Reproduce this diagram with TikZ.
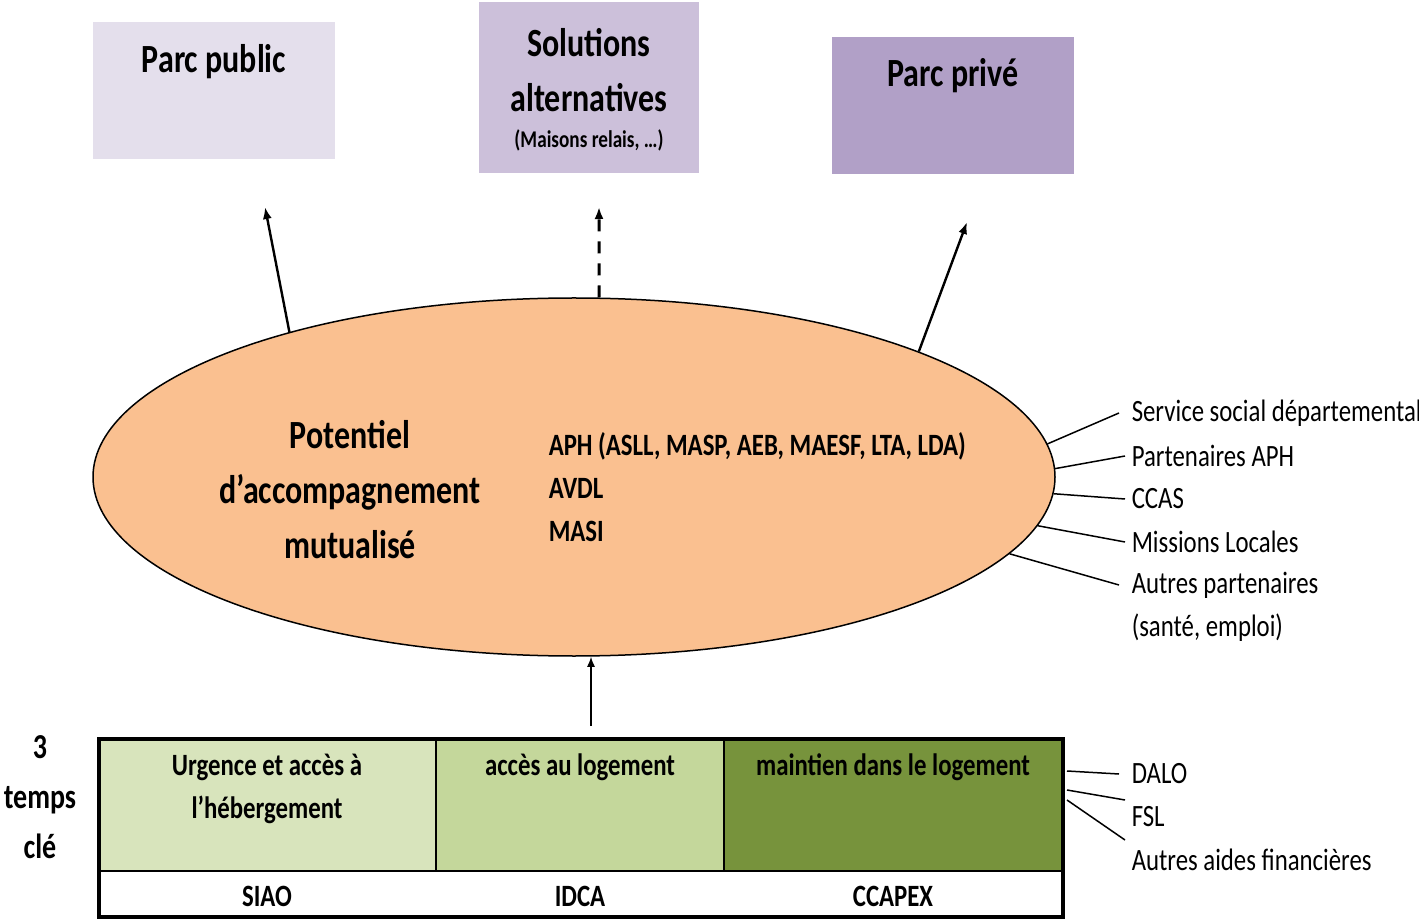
\documentclass[tikz,border=0pt]{standalone}
\usepackage{fontspec}
\setmainfont{Carlito}[FakeStretch=0.8]
\usetikzlibrary{arrows.meta,shapes.geometric,calc}

\definecolor{publicfill}{HTML}{E4DFEC}
\definecolor{altfill}{HTML}{CCC0DA}
\definecolor{privfill}{HTML}{B1A0C7}
\definecolor{potfill}{HTML}{FAC090}
\definecolor{urgfill}{HTML}{D8E4BC}
\definecolor{accfill}{HTML}{C4D79B}
\definecolor{mainfill}{HTML}{77933C}

\begin{document}
\begin{tikzpicture}[x=0.5pt, y=-0.5pt, line width=0.75pt,
  bigtxt/.style={font=\fontsize{20}{27.5}\selectfont\bfseries, align=center},
  midtxt/.style={font=\fontsize{15.5}{21.5}\selectfont\bfseries, align=center},
  parttxt/.style={font=\fontsize{15.5}{21.5}\selectfont, anchor=west, inner xsep=6pt, inner ysep=0pt},
  arr/.style={-{Latex[length=6pt,width=4.5pt]}, line width=1.2pt}]
  \useasboundingbox (0,0) rectangle (1419,919);
  % Housing boxes on top
  \fill[publicfill] (93,22) rectangle (335,159);
  \fill[altfill] (479,2) rectangle (699,173);
  \fill[privfill] (832,37) rectangle (1074,174);
  \node[bigtxt] (pubt) at (214,62) {Parc public};
  \node[bigtxt] (altt) at (589,70) {Solutions\\alternatives};
  \node[font=\fontsize{12}{14}\selectfont\bfseries] (altn) at (589,140) {(Maisons relais, …)};
  \node[bigtxt] (privt) at (953,76) {Parc privé};
  % Shared support ellipse
  \node[ellipse, draw, fill=potfill, minimum width=481pt, minimum height=179pt, inner sep=0pt] (pot) at (574,477) {};
  \node[bigtxt] (pott) at (350,490) {Potentiel\\d’accompagnement\\mutualisé};
  \node[midtxt, align=left, anchor=west, inner sep=0pt] (aph) at (548,487) {APH (ASLL, MASP, AEB, MAESF, LTA, LDA)\\AVDL\\MASI};
  % Arrows towards housing
  \coordinate (pubend) at (265,207);
  \coordinate (altend) at (599,207);
  \coordinate (privend) at (967,222);
  \draw[arr] (pot.153.5) -- (pubend);
  \draw[arr, line width=1.5pt, dash pattern=on 6pt off 5pt] (pot.82) -- (altend);
  \draw[arr] (pot.20.5) -- (privend);
  % Partners on the right
  \node[parttxt] (ssd) at (1119,413) {Service social départemental};
  \node[parttxt] (paph) at (1119,456) {Partenaires APH};
  \node[parttxt] (ccas) at (1119,499) {CCAS};
  \node[parttxt] (ml) at (1119,542) {Missions Locales};
  \node[parttxt] (autp) at (1119,585) {Autres partenaires};
  \node[parttxt] (sante) at (1119,628) {(santé, emploi)};
  \draw (pot.4.5) -- (ssd.west);
  \draw (pot.1) -- ($(paph.west)+(6,0)$);
  \draw (pot.-2.6) -- ($(ccas.west)+(6,0)$);
  \draw (pot.-6.2) -- ($(ml.west)+(6,0)$);
  \draw (pot.-10.5) -- (autp.west);
  % 3 key times table
  \fill[urgfill] (99,739) rectangle (436,871);
  \fill[accfill] (436,739) rectangle (724,871);
  \fill[mainfill] (724,739) rectangle (1063,871);
  \draw (436,739) -- (436,871);
  \draw (724,739) -- (724,871);
  \draw[line width=1pt] (99,871) -- (1063,871);
  \draw[line width=1.75pt] (99,739) rectangle (1063,917);
  \node[midtxt] (urg) at (267,789) {Urgence et accès à\\l’hébergement};
  \node[midtxt] (acc) at (580,767) {accès au logement};
  \node[midtxt] (mai) at (893,767) {maintien dans le logement};
  \node[midtxt] (siao) at (267,896) {SIAO};
  \node[midtxt] (idca) at (580,896) {IDCA};
  \node[midtxt] (ccapex) at (893,896) {CCAPEX};
  \node[font=\fontsize{17.5}{25}\selectfont\bfseries, align=center] (tps) at (40,797) {3\\temps\\clé};
  \coordinate (tabup) at (591,726);
  \draw[-{Latex[length=5pt,width=4pt]}] (tabup) -- (tabup |- pot.south);
  % Financial aids
  \node[parttxt] (dalo) at (1119,774) {DALO};
  \node[parttxt] (fsl) at (1119,817) {FSL};
  \node[parttxt] (aaf) at (1119,860) {Autres aides financières};
  \coordinate (t1) at (1067,771);
  \coordinate (t2) at (1067,790);
  \coordinate (t3) at (1067,800);
  \draw (t1) -- (dalo.west);
  \draw (t2) -- ($(fsl.west)+(6,-17)$);
  \draw (t3) -- ($(aaf.west)+(6,-20)$);
\end{tikzpicture}
\end{document}
